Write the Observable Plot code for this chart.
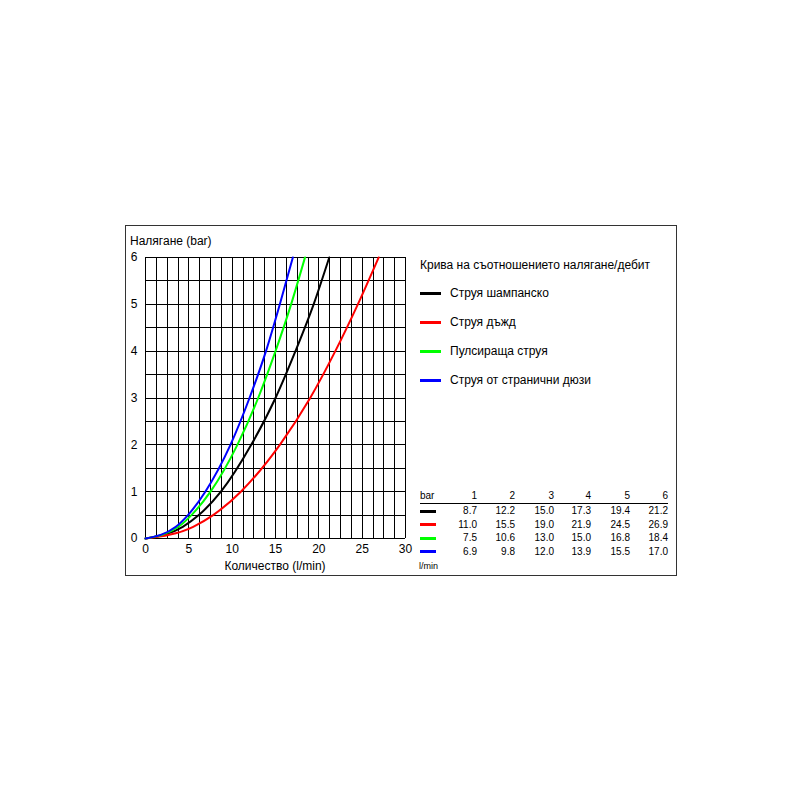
<!DOCTYPE html>
<html>
<head>
<meta charset="utf-8">
<script src="https://cdn.jsdelivr.net/npm/d3@7"></script>
<script src="https://cdn.jsdelivr.net/npm/@observablehq/plot@0.6"></script>
<style>
  html, body { margin: 0; padding: 0; background: #fff; }
  #wrap { position: relative; width: 800px; height: 800px; font-family: "Liberation Sans", Arial, sans-serif; color: #000; }
  #wrap svg { position: absolute; left: 0; top: 0; }
  .abs { position: absolute; white-space: nowrap; }
  #box { position: absolute; left: 125px; top: 225px; width: 550px; height: 349px; border: 1px solid #333; }
</style>
</head>
<body>
<div id="wrap"><div id="box"></div></div>
<script>
// ---- data ----
const seriesNames = ["Струя шампанско", "Струя дъжд", "Пулсираща струя", "Струя от странични дюзи"];
const seriesColors = ["#000000", "#ff0000", "#00ff00", "#0000ff"];
const tablePressures = [1, 2, 3, 4, 5, 6];
// l/min at each table pressure
const champagne = [8.7, 12.2, 15.0, 17.3, 19.4, 21.2];
const rain      = [11.0, 15.5, 19.0, 21.9, 24.5, 26.9];
const pulsating = [7.5, 10.6, 13.0, 15.0, 16.8, 18.4];
const sideJets  = [6.9, 9.8, 12.0, 13.9, 15.5, 17.0];
// low-pressure points (bar 0, 0.25, 0.5)
const lowPressures = [0, 0.25, 0.5];
const champagneLow = [0, 4.3, 6.15];
const rainLow      = [0, 5.5, 7.8];
const pulsatingLow = [0, 3.8, 5.3];
const sideJetsLow  = [0, 3.5, 4.9];

const xTicks = [0, 5, 10, 15, 20, 25, 30];
const yTicks = [0, 1, 2, 3, 4, 5, 6];
const xGridStep = 1.25;
const yGridStep = 0.5;

const tableSeries = [champagne, rain, pulsating, sideJets];
const lowSeries = [champagneLow, rainLow, pulsatingLow, sideJetsLow];

const rows = [];
seriesNames.forEach((name, i) => {
  lowPressures.forEach((p, j) => rows.push({series: name, p, q: lowSeries[i][j]}));
  tablePressures.forEach((p, j) => rows.push({series: name, p, q: tableSeries[i][j]}));
});

const xGrid = d3.range(0, 30 + 1e-9, xGridStep);
const yGrid = d3.range(0, 6 + 1e-9, yGridStep);

const chart = Plot.plot({
  width: 800,
  height: 800,
  marginLeft: 145,
  marginRight: 395,
  marginTop: 257,
  marginBottom: 262,
  style: {fontFamily: "Liberation Sans, Arial, sans-serif", fontSize: "12px", background: "transparent"},
  x: {domain: [0, 30], ticks: xTicks, tickFormat: d3.format("d"), label: null, tickSize: 0, tickPadding: 6},
  y: {domain: [0, 6], ticks: yTicks, tickFormat: d3.format("d"), label: null, tickSize: 0, tickPadding: 8},
  color: {domain: seriesNames, range: seriesColors},
  marks: [
    Plot.ruleX(xGrid, {stroke: "#000", strokeWidth: 1, strokeOpacity: 1, shapeRendering: "crispEdges"}),
    Plot.ruleY(yGrid, {stroke: "#000", strokeWidth: 1, strokeOpacity: 1, shapeRendering: "crispEdges"}),
    Plot.line(rows, {x: "q", y: "p", z: "series", stroke: "series", strokeWidth: 2, curve: "monotone-x"})
  ]
});
chart.querySelectorAll("text").forEach(t => t.setAttribute("fill", "#000"));
const wrap = document.getElementById("wrap");
wrap.appendChild(chart);

function addText(txt, left, top, opts = {}) {
  const d = document.createElement("div");
  d.className = "abs";
  d.textContent = txt;
  d.style.left = left + "px";
  d.style.top = top + "px";
  d.style.fontSize = (opts.size || 12) + "px";
  d.style.lineHeight = "1";
  if (opts.right) { d.style.left = "auto"; d.style.right = (800 - left) + "px"; }
  if (opts.center) { d.style.transform = "translateX(-50%)"; }
  wrap.appendChild(d);
  return d;
}
function addSwatch(color, left, top, w, h) {
  const d = document.createElement("div");
  d.className = "abs";
  d.style.left = left + "px"; d.style.top = top + "px";
  d.style.width = w + "px"; d.style.height = h + "px";
  d.style.background = color;
  wrap.appendChild(d);
}

// axis titles
addText("Налягане (bar)", 130, 235, {size: 12});
addText("Количество (l/min)", 275, 560, {size: 12, center: true});

// legend
addText("Крива на съотношението налягане/дебит", 420, 259, {size: 12});
seriesNames.forEach((name, i) => {
  const cy = 293 + i * 29;
  addSwatch(seriesColors[i], 420, cy - 1.5, 21, 3);
  addText(name, 450, cy - 6, {size: 12});
});

// table
const colRight = [477, 515, 554, 591, 630, 668];
addText("bar", 420, 491, {size: 10});
tablePressures.forEach((p, j) => addText(String(p), colRight[j], 491, {size: 10, right: true}));
addSwatch("#000", 420, 503, 248, 1);
const rowY = [511, 524.5, 538, 551.5];
tableSeries.forEach((vals, i) => {
  addSwatch(seriesColors[i], 420, rowY[i] - 1.5, 16, 3);
  vals.forEach((v, j) => addText(v.toFixed(1), colRight[j], rowY[i] - 5, {size: 10, right: true}));
});
addText("l/min", 419, 562, {size: 9});
</script>
</body>
</html>
